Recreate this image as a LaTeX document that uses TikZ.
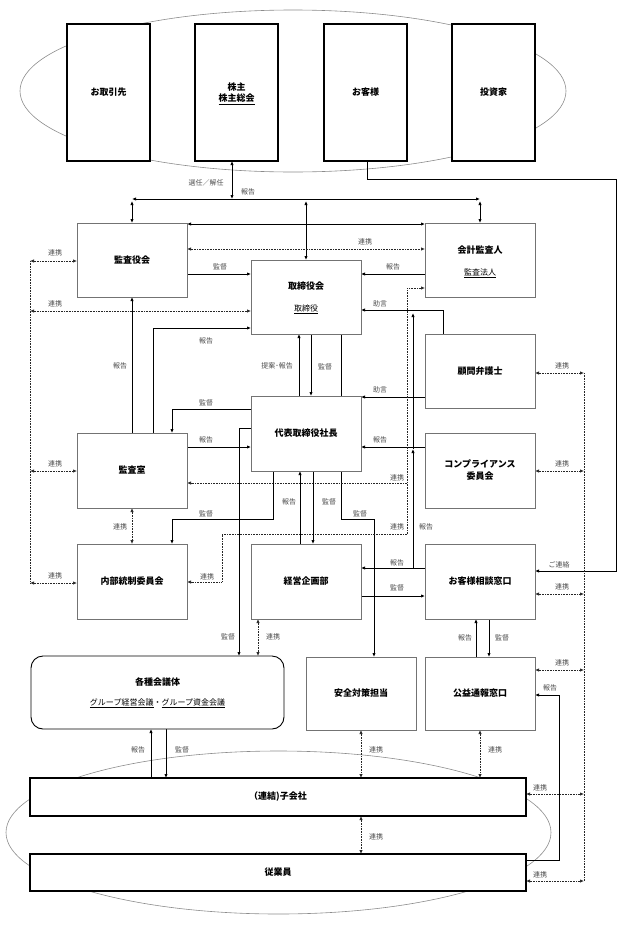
\documentclass[tikz,border=0pt]{standalone}
\usepackage{fontspec}
\setmainfont{Noto Sans CJK JP}
\usetikzlibrary{arrows.meta,calc}
\pgfdeclarelayer{ell}
\pgfdeclarelayer{con}
\pgfsetlayers{ell,con,main}
\begin{document}
\begin{tikzpicture}[x=1pt,y=-1pt,
 box/.style={draw=black!55,line width=0.7pt,fill=white,minimum width=110pt,minimum height=74pt,inner sep=0pt,outer sep=0pt,font=\fontsize{9}{12}\selectfont\bfseries,align=center},
 tbox/.style={draw=black,line width=1.7pt,fill=white,minimum width=83pt,minimum height=137pt,inner sep=0pt,outer sep=0pt,font=\fontsize{9}{11}\selectfont\bfseries},
 bbox/.style={draw=black,line width=1.4pt,fill=white,minimum width=496pt,inner sep=0pt,outer sep=0pt,font=\fontsize{9}{11}\selectfont\bfseries},
 ttl/.style={font=\fontsize{9}{11}\selectfont\bfseries,inner sep=0pt},
 sub/.style={font=\fontsize{8}{10}\selectfont,inner sep=0pt},
 lbl/.style={font=\fontsize{7}{8}\selectfont,text=black!70,inner sep=0pt},
 tip/.tip={Latex[length=4pt,width=3.4pt]},
 arr/.style={draw=black,line width=0.8pt,-tip},
 arr2/.style={draw=black,line width=0.8pt,tip-tip},
 ln/.style={draw=black,line width=0.8pt},
 dot/.style={draw=black!85,line width=0.7pt,dash pattern=on 0.8pt off 0.8pt},
 dot2/.style={dot,tip-tip},
 dota/.style={dot,-tip},
]
\useasboundingbox (0,0) rectangle (627,929);
\foreach \y in {179,199,201,224,249,261,274,288,310,311,313,328,373,397,409,428,447,449,471,483,519,534,568,571,582,583,594,596,670,695,794,860,881}
  {\coordinate (h\y) at (0,\y);}
\foreach \x in {30,151,153,166,172,222,232,239,258,273,299,300,311,313,341,367,374,407,413,443,476,489,559,584,616}
  {\coordinate (v\x) at (\x,0);}

% ---------- boxes ----------
\node[tbox] (torihiki) at (108.5,92.5) {お取引先};
\node[tbox] (kabunushi) at (236.5,92.5) {};
\node[ttl] (kabunushi-a) at (236.5,87) {株主};
\node[ttl] (kabunushi-b) at (236.5,99.5) {\underline{株主総会}};
\node[tbox] (okyaku) at (365.5,92.5) {お客様};
\node[tbox] (toushi) at (493.5,92.5) {投資家};

\node[box] (kansayaku) at (132,260) {監査役会};
\node[box] (kaikei) at (480,260) {};
\node[ttl] (kaikei-a) at (480,250) {会計監査人};
\node[sub] (kaikei-b) at (480,273) {\underline{監査法人}};
\node[box] (torishimari) at (306,297) {};
\node[ttl] (torishimari-a) at (306,286) {取締役会};
\node[sub] (torishimari-b) at (306,309) {\underline{取締役}};
\node[box] (komon) at (480,371) {顧問弁護士};
\node[box,minimum height=75pt] (daihyo) at (306,433.5) {代表取締役社長};
\node[box,minimum height=75pt] (kansashitsu) at (132,470.5) {監査室};
\node[box,minimum height=75pt] (compliance) at (480,470.5) {コンプライアンス\\委員会};
\node[box,minimum height=75pt] (naibu) at (132,581.5) {内部統制委員会};
\node[box,minimum height=75pt] (keiei) at (306,581.5) {経営企画部};
\node[box,minimum height=75pt] (soudan) at (480,581.5) {お客様相談窓口};
\node[draw=black,line width=0.9pt,fill=white,rounded corners=12pt,minimum width=253pt,minimum height=73pt,inner sep=0pt,outer sep=0pt] (kaigi) at (157.5,692.5) {};
\node[ttl] (kaigi-a) at (157.5,682) {各種会議体};
\node[sub] (kaigi-b) at (157.5,703) {\underline{グループ経営会議}・\underline{グループ資金会議}};
\node[box,minimum height=73pt] (anzen) at (361,693.5) {安全対策担当};
\node[box,minimum height=73pt] (koueki) at (480,693.5) {公益通報窓口};
\node[bbox,minimum height=38pt] (kogaisha) at (278,797) {（連結)子会社};
\node[bbox,minimum height=37pt] (jugyoin) at (278,872.5) {従業員};

% ---------- ellipses ----------
\begin{pgfonlayer}{ell}
\draw[black!45,line width=0.6pt] (293,91) ellipse [x radius=273pt,y radius=81pt];
\draw[black!45,line width=0.6pt] (278.5,832.5) ellipse [x radius=272.5pt,y radius=81.5pt];
\end{pgfonlayer}

% ---------- connectors ----------
\begin{pgfonlayer}{con}
% shareholders bus
\draw[arr2] (v232 |- kabunushi.south) -- (v232 |- h199);
\draw[arr2] (kansayaku.north |- h199) -- (kaikei.north |- h199);
\draw[arr2] (kansayaku.north |- h201) -- (kansayaku.north);
\draw[arr2] (torishimari.north |- h201) -- (torishimari.north);
\draw[arr2] (kaikei.north |- h201) -- (kaikei.north);
% audit board / accounting auditor
\draw[arr2] (kansayaku.east |- h224) -- (kaikei.west |- h224);
\draw[dot2] (kansayaku.east |- h249) -- (kaikei.west |- h249);
\draw[arr] (kansayaku.east |- h274) -- (torishimari.west |- h274);
\draw[arr] (kaikei.west |- h274) -- (torishimari.east |- h274);
% left dotted bus
\draw[dot] (v30 |- h261) -- (v30 |- h583);
\draw[dot2] (v30 |- h261) -- (kansayaku.west |- h261);
\draw[dot2] (v30 |- h311) -- (torishimari.west |- h311);
\draw[dot2] (v30 |- h471) -- (kansashitsu.west |- h471);
\draw[dot2] (v30 |- h583) -- (naibu.west |- h583);
% audit office reports
\draw[arr] (kansashitsu.north) -- (kansayaku.south);
\draw[arr] (v153 |- kansashitsu.north) -- (v153 |- h328) -- (torishimari.west |- h328);
% board <-> president
\draw[arr] (v299 |- daihyo.north) -- (v299 |- torishimari.south);
\draw[arr] (v311 |- torishimari.south) -- (v311 |- daihyo.north);
\draw[ln] (v341 |- torishimari.south) -- (v341 |- h519) -- (v374 |- h519);
\draw[arr] (v374 |- h519) -- (v374 |- anzen.north);
% lawyers, compliance
\draw[arr] (v443 |- komon.north) -- (v443 |- h310) -- (torishimari.east |- h310);
\draw[arr] (komon.west |- h397) -- (daihyo.east |- h397);
\draw[arr] (compliance.west |- h447) -- (daihyo.east |- h447);
% customer desk reports
\draw[arr] (soudan.west |- h568) -- (keiei.east |- h568);
\draw[arr] (v413 |- h568) -- (v413 |- h449);
\draw[arr] (v413 |- h449) -- (v413 |- h313);
% dotted to accounting auditor
\draw[dota] (v407 |- h534) -- (v407 |- h288) -- (kaikei.west |- h288);
\draw[dota] (v407 |- h483) -- (kansashitsu.east |- h483);
\draw[dota] (v407 |- h534) -- (v222 |- h534) -- (v222 |- h582) -- (naibu.east |- h582);
% president <-> audit office etc.
\draw[arr] (daihyo.west |- h409) -- (v172 |- h409) -- (v172 |- kansashitsu.north);
\draw[arr] (kansashitsu.east |- h447) -- (daihyo.west |- h447);
\draw[dot2] (kansashitsu.south) -- (naibu.north);
\draw[arr] (v273 |- daihyo.south) -- (v273 |- h519) -- (v172 |- h519) -- (v172 |- naibu.north);
\draw[arr] (v300 |- keiei.north) -- (v300 |- daihyo.south);
\draw[arr] (v313 |- daihyo.south) -- (v313 |- keiei.north);
\draw[arr] (daihyo.west |- h428) -- (v239 |- h428) -- (v239 |- kaigi.north);
\draw[dot2] (v258 |- keiei.south) -- (v258 |- kaigi.north);
\draw[arr] (keiei.east |- h596) -- (soudan.west |- h596);
% customers -> desk
\draw[arr] (v367 |- okyaku.south) -- (v367 |- h179) -- (v616 |- h179) -- (v616 |- h571) -- (soudan.east |- h571);
% right dotted bus
\draw[dot] (v584 |- h373) -- (v584 |- h881);
\draw[dot2] (komon.east |- h373) -- (v584 |- h373);
\draw[dot2] (compliance.east |- h471) -- (v584 |- h471);
\draw[dot2] (soudan.east |- h594) -- (v584 |- h594);
\draw[dot2] (koueki.east |- h670) -- (v584 |- h670);
\draw[dot2] (kogaisha.east |- h794) -- (v584 |- h794);
\draw[dot2] (jugyoin.east |- h881) -- (v584 |- h881);
% whistleblowing
\draw[arr] (v476 |- koueki.north) -- (v476 |- soudan.south);
\draw[arr] (v489 |- soudan.south) -- (v489 |- koueki.north);
\draw[arr] (jugyoin.east |- h860) -- (v559 |- h860) -- (v559 |- h695) -- (koueki.east |- h695);
% group
\draw[arr] (v151 |- kogaisha.north) -- (v151 |- kaigi.south);
\draw[arr] (v166 |- kaigi.south) -- (v166 |- kogaisha.north);
\draw[dot2] (anzen.south) -- (anzen.south |- kogaisha.north);
\draw[dot2] (koueki.south) -- (koueki.south |- kogaisha.north);
\draw[dot2] (kogaisha.south -| anzen.south) -- (jugyoin.north -| anzen.south);
\end{pgfonlayer}

% ---------- labels ----------
\node[lbl] (L1) at (206,183) {選任／解任};
\node[lbl] (L2) at (248,192) {報告};
\node[lbl] (L3) at (365,242) {連携};
\node[lbl] (L4) at (220,267) {監督};
\node[lbl] (L5) at (393,267) {報告};
\node[lbl] (L6) at (55,253) {連携};
\node[lbl] (L7) at (55,304) {連携};
\node[lbl] (L8) at (55,464) {連携};
\node[lbl] (L9) at (55,576) {連携};
\node[lbl] (L10) at (120,366) {報告};
\node[lbl] (L11) at (206,341) {報告};
\node[lbl] (L12) at (277,366) {提案･報告};
\node[lbl] (L13) at (325,367) {監督};
\node[lbl] (L14) at (380,304) {助言};
\node[lbl] (L15) at (380,390) {助言};
\node[lbl] (L16) at (380,440) {報告};
\node[lbl] (L17) at (206,403) {監督};
\node[lbl] (L18) at (206,440) {報告};
\node[lbl] (L19) at (120,527) {連携};
\node[lbl] (L20) at (206,514) {監督};
\node[lbl] (L21) at (289,502) {報告};
\node[lbl] (L22) at (329,502) {監督};
\node[lbl] (L23) at (360,514) {監督};
\node[lbl] (L24) at (397,478) {連携};
\node[lbl] (L25) at (397,527) {連携};
\node[lbl] (L26) at (426,527) {報告};
\node[lbl] (L27) at (207,577) {連携};
\node[lbl] (L28) at (397,563) {報告};
\node[lbl] (L29) at (397,588) {監督};
\node[lbl] (L30) at (559,565) {ご連絡};
\node[lbl] (L31) at (562,366) {連携};
\node[lbl] (L32) at (562,464) {連携};
\node[lbl] (L33) at (562,587) {連携};
\node[lbl] (L34) at (562,663) {連携};
\node[lbl] (L35) at (540,788) {連携};
\node[lbl] (L36) at (540,875) {連携};
\node[lbl] (L37) at (228,637) {監督};
\node[lbl] (L38) at (273,637) {連携};
\node[lbl] (L39) at (465,638) {報告};
\node[lbl] (L40) at (502,638) {監督};
\node[lbl] (L41) at (550,688) {報告};
\node[lbl] (L42) at (138,750) {報告};
\node[lbl] (L43) at (182,750) {監督};
\node[lbl] (L44) at (376,750) {連携};
\node[lbl] (L45) at (495,750) {連携};
\node[lbl] (L46) at (376,837) {連携};
\end{tikzpicture}
\end{document}
